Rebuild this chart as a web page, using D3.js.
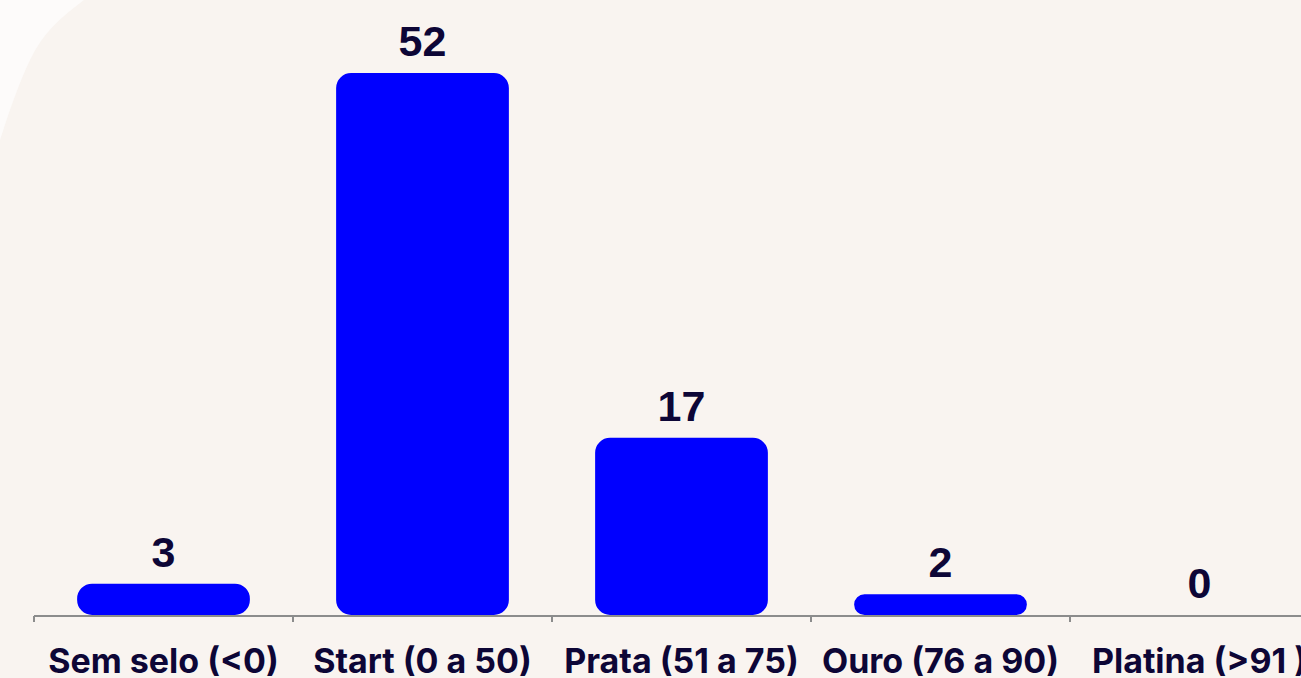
<!DOCTYPE html>
<html>
<head>
<meta charset="utf-8">
<script src="https://cdn.jsdelivr.net/npm/d3@7"></script>
<style>
  html, body { margin: 0; padding: 0; background: #f9f4f0; overflow: hidden; }
  .value { font-family: "Liberation Sans", Arial, sans-serif; font-weight: bold; fill: #0d0636; }
  .cat { font-family: "Inter", "Lato", sans-serif; font-weight: 700; fill: #0d0636; }
</style>
</head>
<body>
<div class="chart"></div>
<script>
var svgWidth = 1301;
var svgHeight = 678;

// chart data
var categories = ["Sem selo (<0)", "Start (0 a 50)", "Prata (51 a 75)", "Ouro (76 a 90)", "Platina (>91 )"];
var counts = [3, 52, 17, 2, 0];

var margin = { top: 73, left: 34 };
var bandStep = 259;
var base = 615;

var svg = d3.select(".chart")
  .append("svg")
  .attr("width", svgWidth)
  .attr("height", svgHeight);

// background with the lighter curved shape in the top-left corner
svg.append("rect")
  .attr("width", svgWidth)
  .attr("height", svgHeight)
  .attr("fill", "#f9f4f0");

svg.append("path")
  .attr("d", "M0,0 L84,0 C60,18 42,34 30,60 C18,85 8,115 0,140 Z")
  .attr("fill", "#fdfbfa");

var xBand = d3.scaleBand()
  .domain(categories)
  .range([margin.left, margin.left + bandStep * categories.length])
  .paddingInner(0.333)
  .paddingOuter(0.1665);

var yLinear = d3.scaleLinear()
  .domain([0, 52])
  .range([base, margin.top]);

// x axis
var bottomAxis = d3.axisBottom(xBand).tickSize(6).tickSizeOuter(0).tickFormat("");
var xAxis = svg.append("g")
  .attr("transform", "translate(0, 616)")
  .call(bottomAxis);

xAxis.select(".domain").attr("stroke", "#8c8c8c").attr("stroke-width", 2);
// ticks sit at band boundaries, not at band centers
xAxis.selectAll(".tick").remove();
var bounds = d3.range(categories.length + 1).map(i => margin.left + i * bandStep);
xAxis.selectAll("line.sep")
  .data(bounds)
  .enter()
  .append("line")
  .attr("class", "sep")
  .attr("x1", d => d).attr("x2", d => d)
  .attr("y1", 0).attr("y2", 6)
  .attr("stroke", "#8c8c8c")
  .attr("stroke-width", 2);

xAxis.select(".domain")
  .attr("d", "M" + margin.left + ",0H" + (margin.left + bandStep * categories.length));

// category labels
svg.selectAll("text.cat")
  .data(categories)
  .enter()
  .append("text")
  .attr("class", "cat")
  .attr("x", d => xBand(d) + xBand.bandwidth() / 2)
  .attr("y", 673)
  .attr("text-anchor", "middle")
  .attr("font-size", 34)
  .text(d => d);

// bars
svg.selectAll("path.bar")
  .data(counts)
  .enter()
  .filter(d => d > 0)
  .append("path")
  .attr("class", "bar")
  .attr("fill", "#0000ff")
  .attr("d", function(d) {
    var idx = counts.indexOf(d);
    var x0 = xBand(categories[idx]);
    var w = xBand.bandwidth();
    var y0 = yLinear(d);
    var h = base - y0;
    var r = Math.min(15, h / 2);
    return "M" + x0 + "," + (y0 + r) +
      "A" + r + "," + r + " 0 0 1 " + (x0 + r) + "," + y0 +
      "H" + (x0 + w - r) +
      "A" + r + "," + r + " 0 0 1 " + (x0 + w) + "," + (y0 + r) +
      "V" + (base - r) +
      "A" + r + "," + r + " 0 0 1 " + (x0 + w - r) + "," + base +
      "H" + (x0 + r) +
      "A" + r + "," + r + " 0 0 1 " + x0 + "," + (base - r) + "Z";
  });

// value labels
svg.selectAll("text.value")
  .data(counts)
  .enter()
  .append("text")
  .attr("class", "value")
  .attr("x", (d, i) => xBand(categories[i]) + xBand.bandwidth() / 2)
  .attr("y", d => yLinear(d) - 17)
  .attr("text-anchor", "middle")
  .attr("font-size", 43)
  .text(d => d);
</script>
</body>
</html>
